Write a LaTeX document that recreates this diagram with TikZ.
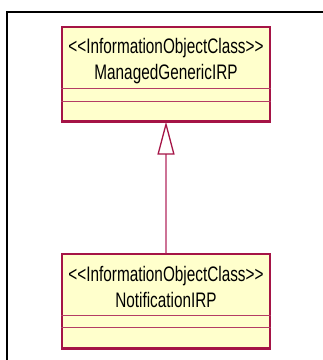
\documentclass[tikz,border=0pt]{standalone}
\usepackage{fontspec}
\newfontfamily\umlfont[FakeStretch=0.73]{Liberation Sans}
\usetikzlibrary{arrows.meta}
\definecolor{umlfill}{RGB}{255,255,204}
\definecolor{umlline}{RGB}{165,20,70}
\definecolor{umlsep}{RGB}{180,60,100}
\definecolor{umlconn}{RGB}{205,115,150}
\begin{document}
\begin{tikzpicture}[x=1pt, y=-1pt,
        classbox/.style={draw=umlline, fill=umlfill, line width=1.2pt, minimum width=208pt, minimum height=94pt, inner sep=0pt},
        classtext/.style={font=\umlfont\fontsize{21}{24}\selectfont, anchor=base, inner sep=0pt},
        sep/.style={draw=umlsep, line width=1.2pt}]
            \useasboundingbox (0,0) rectangle (323,360);
            \draw[line width=2pt] (7,361) -- (7,12) -- (323,12);

            \node[classbox] (MG) at (166,74) {};
            \node[classtext] (MGst) at (166,53) {<\kern0pt<InformationObjectClass>\kern0pt>};
            \node[classtext] (MGnm) at (166,79) {ManagedGenericIRP};
            \draw[sep] ([yshift=-62pt]MG.north west) -- ([yshift=-62pt]MG.north east);
            \draw[sep] ([yshift=-75pt]MG.north west) -- ([yshift=-75pt]MG.north east);
            \draw[umlline, line width=2pt] (MG.south west) -- (MG.south east);

            \node[classbox] (NI) at (166,301) {};
            \node[classtext] (NIst) at (166,281.5) {<\kern0pt<InformationObjectClass>\kern0pt>};
            \node[classtext] (NInm) at (166,307) {NotificationIRP};
            \draw[sep] ([yshift=-62pt]NI.north west) -- ([yshift=-62pt]NI.north east);
            \draw[sep] ([yshift=-74pt]NI.north west) -- ([yshift=-74pt]NI.north east);
            \draw[umlline, line width=2pt] (NI.south west) -- (NI.south east);

            \draw[umlconn, line width=1.3pt, -{Triangle[open, length=33pt, width=17pt, fill=white, color=umlline]}] (NI.north) -- (MG.south);
        \end{tikzpicture}
\end{document}
